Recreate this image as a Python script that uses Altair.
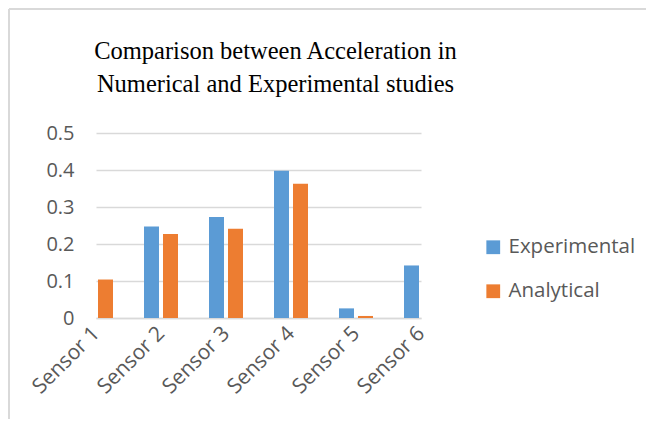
import altair as alt
import pandas as pd

sensors = ["Sensor 1", "Sensor 2", "Sensor 3", "Sensor 4", "Sensor 5", "Sensor 6"]
experimental = [None, 0.247, 0.273, 0.398, 0.026, 0.142]
analytical = [0.104, 0.227, 0.241, 0.363, 0.0055, 0.108]
series = ["Experimental", "Analytical"]
colors = ["#5B9BD5", "#ED7D31"]
y_ticks = [0, 0.1, 0.2, 0.3, 0.4, 0.5]

rows = []
for s, e, a in zip(sensors, experimental, analytical):
    if e is not None:
        rows.append({"sensor": s, "series": "Experimental", "value": e})
    if a is not None:
        rows.append({"sensor": s, "series": "Analytical", "value": a})
df = pd.DataFrame(rows)

x_enc = alt.X("sensor:N", sort=sensors,
              scale=alt.Scale(type="point", padding=0, domain=sensors),
              axis=alt.Axis(title=None, labelAngle=-45, labelAlign="right",
                            labelBaseline="middle", labelPadding=12,
                            labelFontSize=21, labelColor="#595959",
                            labelFont="Open Sans", ticks=False,
                            domainColor="#d9d9d9", domainWidth=1.5, grid=False))
y_enc = alt.Y("value:Q", scale=alt.Scale(domain=[0, 0.5], nice=False),
              axis=alt.Axis(title=None, values=y_ticks, domain=False, ticks=False,
                            labelExpr="datum.value == 0 ? '0' : format(datum.value, '.1f')",
                            labelFontSize=20, labelColor="#595959", labelFont="Open Sans",
                            labelPadding=22, gridColor="#d9d9d9", gridWidth=1.5))
color_enc = alt.Color("series:N",
                      scale=alt.Scale(domain=series, range=colors),
                      legend=alt.Legend(title=None, orient="none", legendX=387, legendY=104,
                                        symbolType="square", symbolSize=190,
                                        symbolStrokeWidth=0, labelFontSize=20.5,
                                        labelColor="#595959", labelFont="Open Sans",
                                        rowPadding=23, labelOffset=5))

exp_layer = alt.Chart(df).transform_filter(alt.datum.series == "Experimental").mark_bar(
    width=15, xOffset=-9.5, clip=True).encode(x=x_enc, y=y_enc, color=color_enc)
ana_layer = alt.Chart(df).transform_filter(alt.datum.series == "Analytical").mark_bar(
    width=15, xOffset=9.5, clip=True).encode(x=x_enc, y=y_enc, color=color_enc)

frame_df = pd.DataFrame({"k": [0]})
left_border = alt.Chart(frame_df).mark_rule(color="#d9d9d9", strokeWidth=2).encode(
    x=alt.value(-87), y=alt.value(-124), y2=alt.value(310))
top_border = alt.Chart(frame_df).mark_rule(color="#d9d9d9", strokeWidth=2).encode(
    x=alt.value(-87), x2=alt.value(560), y=alt.value(-124))

chart = alt.layer(exp_layer, ana_layer, left_border, top_border).properties(
    width=325, height=185,
    title=alt.TitleParams(
        text=["Comparison between Acceleration in", "Numerical and Experimental studies"],
        font="Liberation Serif", fontSize=24.5, fontWeight="normal", color="#000000",
        anchor="middle", dx=17, offset=-89, lineHeight=33),
    autosize=alt.AutoSizeParams(type="none"),
    padding={"left": 88, "top": 125, "right": 225, "bottom": 101},
).configure_view(stroke=None)

chart.save("out.html", embed_options={"renderer": "svg", "actions": False})
